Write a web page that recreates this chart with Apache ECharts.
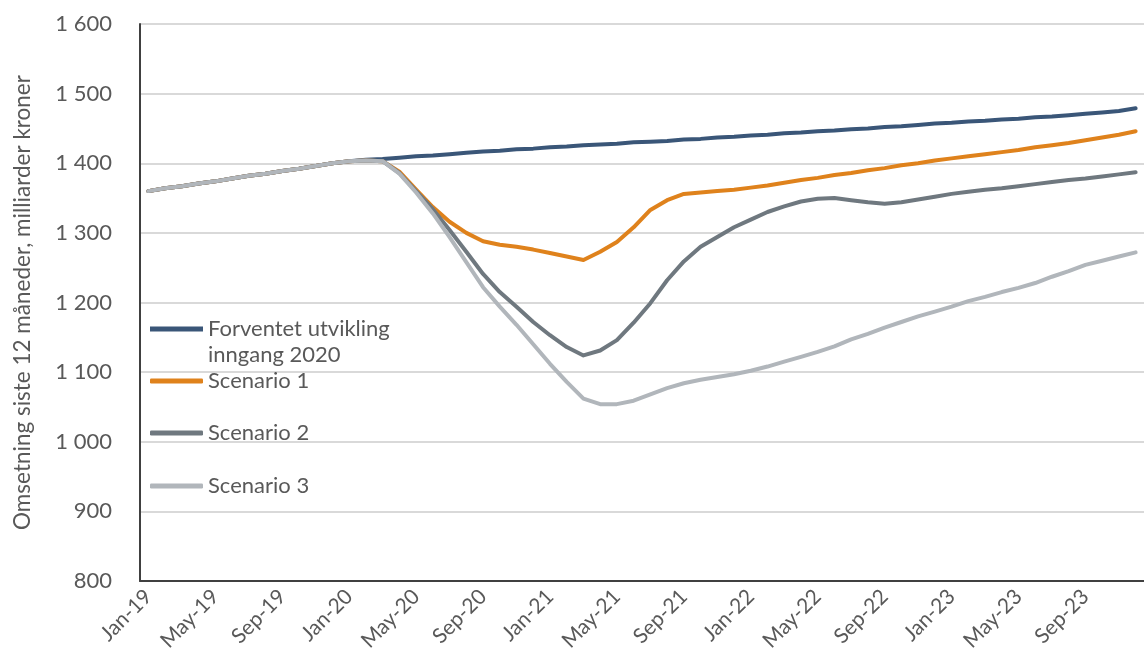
<!DOCTYPE html>
<html>
<head>
<meta charset="utf-8">
<script src="https://cdn.jsdelivr.net/npm/echarts@6/dist/echarts.min.js"></script>
<style>
  html, body { margin: 0; padding: 0; background: #fff; }
  #chart { width: 1144px; height: 664px; }
</style>
</head>
<body>
<div id="chart"></div>
<script>
// kategorier: månedlig, jan 2019 - des 2023
const months = ['Jan', 'Feb', 'Mar', 'Apr', 'May', 'Jun', 'Jul', 'Aug', 'Sep', 'Oct', 'Nov', 'Dec'];
const years = ['19', '20', '21', '22', '23'];
const categories = years.flatMap(y => months.map(m => m + '-' + y));

const seriesNames = ['Forventet utvikling inngang 2020', 'Scenario 1', 'Scenario 2', 'Scenario 3'];

const forventet = [
  1360, 1364, 1367, 1371, 1374, 1378, 1382, 1385, 1389, 1392, 1396, 1400,
  1403, 1405, 1406, 1408, 1410, 1411, 1413, 1415, 1417, 1418, 1420, 1421,
  1423, 1424, 1426, 1427, 1428, 1430, 1431, 1432, 1434, 1435, 1437, 1438,
  1440, 1441, 1443, 1444, 1446, 1447, 1449, 1450, 1452, 1453, 1455, 1457,
  1458, 1460, 1461, 1463, 1464, 1466, 1467, 1469, 1471, 1473, 1475, 1479
];
const scenario1 = [
  1360, 1364, 1367, 1371, 1374, 1378, 1382, 1385, 1389, 1392, 1396, 1400,
  1403, 1404, 1403, 1388, 1362, 1337, 1316, 1300, 1288, 1283, 1280, 1276,
  1271, 1266, 1261, 1273, 1287, 1308, 1333, 1347, 1356, 1358, 1360, 1362,
  1365, 1368, 1372, 1376, 1379, 1383, 1386, 1390, 1393, 1397, 1400, 1404,
  1407, 1410, 1413, 1416, 1419, 1423, 1426, 1429, 1433, 1437, 1441, 1446
];
const scenario2 = [
  1360, 1364, 1367, 1371, 1374, 1378, 1382, 1385, 1389, 1392, 1396, 1400,
  1403, 1404, 1403, 1386, 1360, 1334, 1304, 1273, 1241, 1215, 1194, 1172,
  1153, 1136, 1124, 1131, 1146, 1171, 1199, 1232, 1259, 1280, 1294, 1308,
  1319, 1330, 1338, 1345, 1349, 1350, 1347, 1344, 1342, 1344, 1348, 1352,
  1356, 1359, 1362, 1364, 1367, 1370, 1373, 1376, 1378, 1381, 1384, 1387
];
const scenario3 = [
  1360, 1364, 1367, 1371, 1374, 1378, 1382, 1385, 1389, 1392, 1396, 1400,
  1403, 1404, 1403, 1385, 1358, 1328, 1294, 1258, 1222, 1194, 1168, 1140,
  1112, 1086, 1062, 1054, 1054, 1059, 1068, 1077, 1084, 1089, 1093, 1097,
  1102, 1108, 1115, 1122, 1129, 1137, 1147, 1155, 1164, 1172, 1180, 1187,
  1194, 1202, 1208, 1215, 1221, 1228, 1237, 1245, 1254, 1260, 1266, 1272
];

const colors = ['#3a5678', '#df821c', '#6f787f', '#b1b6bb'];
const FONT = 'Lato';

const chart = echarts.init(document.getElementById('chart'));

const fmtThousands = v => String(v).replace(/\B(?=(\d{3})+(?!\d))/g, ' ');

const legendText = { fontFamily: FONT, fontSize: 22, color: '#595959', lineHeight: 26 };

function legendFor(i, top, extra) {
  return Object.assign({
    show: true,
    data: [{ name: seriesNames[i], icon: 'roundRect' }],
    left: 150,
    top: top,
    orient: 'vertical',
    padding: 0,
    itemWidth: 53,
    itemHeight: 5,
    selectedMode: false,
    itemStyle: { color: colors[i], borderWidth: 0 },
    textStyle: legendText
  }, extra || {});
}

const option = {
  animation: false,
  color: colors,
  grid: { left: 140, top: 24, bottom: 83, right: -9, containLabel: false },
  legend: [
    // to linjer tekst: strek på høyde med første linje
    legendFor(0, 316, {
      data: [{ name: seriesNames[0], icon: 'path://M0,0L53,0L53,5L0,5Z M0,31L0.05,31L0,30.95Z' }],
      itemHeight: 31,
      formatter: () => 'Forventet utvikling\ninngang 2020'
    }),
    legendFor(1, 368),
    legendFor(2, 420),
    legendFor(3, 473)
  ],
  xAxis: {
    type: 'category',
    data: categories,
    boundaryGap: true,
    axisLine: { lineStyle: { color: '#404040', width: 2 } },
    axisTick: { interval: 3, length: 7, lineStyle: { color: '#404040', width: 2 } },
    axisLabel: {
      interval: 3,
      rotate: 45,
      margin: 12,
      fontFamily: FONT,
      fontSize: 21,
      color: '#595959'
    },
    splitLine: { show: false }
  },
  yAxis: {
    type: 'value',
    min: 800,
    max: 1600,
    interval: 100,
    name: 'Omsetning siste 12 måneder, milliarder kroner',
    nameLocation: 'middle',
    nameGap: 106,
    nameTextStyle: { fontFamily: FONT, fontSize: 22.5, color: '#595959' },
    axisLine: { show: true, lineStyle: { color: '#404040', width: 2 } },
    axisTick: { show: false },
    axisLabel: {
      formatter: fmtThousands,
      margin: 28,
      fontFamily: FONT,
      fontSize: 22,
      color: '#595959'
    },
    splitLine: { lineStyle: { color: '#d9d9d9', width: 2 } }
  },
  series: [
    { name: seriesNames[0], data: forventet },
    { name: seriesNames[1], data: scenario1 },
    { name: seriesNames[2], data: scenario2 },
    { name: seriesNames[3], data: scenario3 }
  ].map((s, i) => Object.assign(s, {
    type: 'line',
    showSymbol: false,
    symbol: 'none',
    lineStyle: { width: 4, color: colors[i], cap: 'round', join: 'round' },
    itemStyle: { color: colors[i] }
  }))
};

chart.setOption(option);
</script>
</body>
</html>
